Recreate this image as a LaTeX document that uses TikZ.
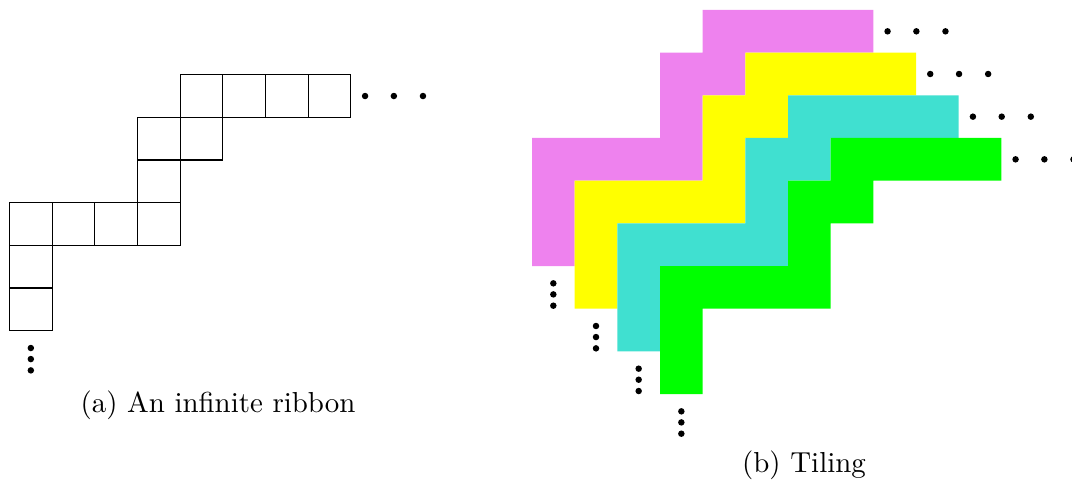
\documentclass[tikz,border=0pt]{standalone}
\definecolor{tileviolet}{RGB}{238,130,238}
\definecolor{tileyellow}{RGB}{255,255,0}
\definecolor{tileturq}{RGB}{64,224,208}
\definecolor{tilegreen}{RGB}{0,255,0}
\tikzset{
  cellbox/.style={draw=black, line width=0.4pt},
  dotmark/.style={fill=black},
  caption/.style={anchor=base, inner sep=0pt, font=\normalsize}
}
\newcommand{\ribbonshape}{(4,0) -- (8,0) -- (8,1) -- (5,1) -- (5,2) -- (4,2) -- (4,4) -- (1,4) -- (1,6) -- (0,6) -- (0,3) -- (3,3) -- (3,1) -- (4,1) -- cycle}
\newcommand{\ribbondots}{%
  \foreach \d in {0.333,1.008,1.69} {\fill[dotmark] (8+\d,0.5) circle[radius=0.076];}
  \foreach \d in {0.406,0.665,0.93} {\fill[dotmark] (0.5,6+\d) circle[radius=0.076];}
}
\begin{document}
\begin{tikzpicture}[x=0.346pt, y=-0.346pt]
\useasboundingbox (0,0) rectangle (1072,486);
% (a) ribbon
\begin{scope}[shift={(9.5,74.7)}, scale=42.67]
  \foreach \c/\r in {4/0,5/0,6/0,7/0,3/1,4/1,3/2,0/3,1/3,2/3,3/3,0/4,0/5}
    {\draw[cellbox] (\c,\r) rectangle ++(1,1);}
  \ribbondots
\end{scope}
\node[caption] (capa) at (218,413) {(a) An infinite ribbon};
% (b) tiling
\foreach \k/\col in {0/tileviolet,1/tileyellow,2/tileturq,3/tilegreen} {
  \begin{scope}[shift={(532+42.67*\k,10+42.67*\k)}, scale=42.67]
    \fill[\col] \ribbonshape;
    \ribbondots
  \end{scope}
}
\node[caption] (capb) at (804,472.7) {(b) Tiling};
\end{tikzpicture}
\end{document}
